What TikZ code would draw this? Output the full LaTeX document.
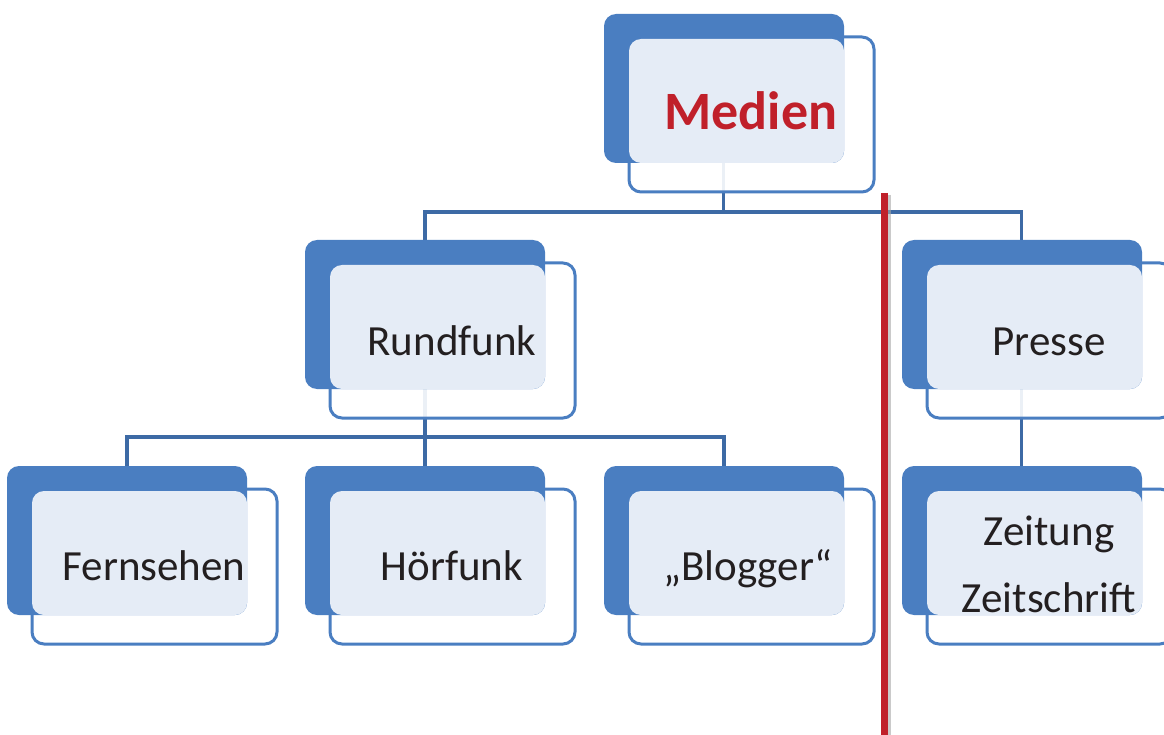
\documentclass[tikz,border=0pt]{standalone}
\usepackage{fontspec}
\setmainfont{Carlito}
\usetikzlibrary{positioning}
\definecolor{boxblue}{HTML}{4A7EC1}
\definecolor{boxlight}{HTML}{E5ECF6}
\definecolor{linkblue}{HTML}{3D6AA5}
\definecolor{medred}{HTML}{C0202A}
\definecolor{txtgray}{HTML}{231F20}
\tikzset{
  darkbox/.style={fill=boxblue,rounded corners=12pt,minimum width=240pt,minimum height=149pt,inner sep=0pt},
  outbox/.style={draw=boxblue,line width=3pt,fill=white,fill opacity=0.9,rounded corners=12pt,minimum width=245pt,minimum height=155pt,inner sep=0pt},
  lightbox/.style={fill=boxlight,rounded corners=12pt,minimum width=215pt,minimum height=124pt,inner sep=0pt},
  link/.style={draw=linkblue,line width=3.5pt},
  label/.style={anchor=base,text=txtgray,font=\fontsize{43}{67}\selectfont,inner sep=0pt,align=center},
}
% box pair: name, left x, top y
\newcommand{\orgbox}[3]{
  \node[outbox] (#1-out) at (#2+147.5,#3+100.5) {};
  \node[darkbox] (#1) at (#2+120,#3+74.5) {};
  \node[lightbox] (#1-in) at (#2+132.5,#3+87) {};
}

\begin{document}
\begin{tikzpicture}[x=1pt,y=-1pt]
  \useasboundingbox (0,0) rectangle (1164,735);
  % connectors behind the boxes
  \coordinate (top) at (723.5,163);
  \coordinate (rund) at (425,389);
  \coordinate (pres) at (1021.5,389);
  \draw[link] (top) -- ++(0,49) -| (425,240);
  \draw[link] (top) ++(0,49) -| (1021.5,240);
  \draw[link] (rund) -- ++(0,48) -| (127,466);
  \draw[link] (rund) -- (425,466);
  \draw[link] (rund) ++(0,48) -| (724,466);
  \draw[link] (pres) -- (1021.5,466);
  % boxes
  \orgbox{medien}{604}{14}
  \orgbox{rundfunk}{305}{240}
  \orgbox{presse}{902}{240}
  \orgbox{fernsehen}{7}{466}
  \orgbox{hoerfunk}{305}{466}
  \orgbox{blogger}{604}{466}
  \orgbox{zeitung}{902}{466}
  % texts
  \node[label,text=medred,font=\fontsize{54}{60}\selectfont\bfseries] (t-medien) at (751,130) {Medien};
  \node[label] (t-rundfunk) at (452,355) {Rundfunk};
  \node[label] (t-presse) at (1049,355) {Presse};
  \node[label] (t-fernsehen) at (154,580) {Fernsehen};
  \node[label] (t-hoerfunk) at (452,580) {Hörfunk};
  \node[label] (t-blogger) at (748,580) {„Blogger“};
  \node[label] (t-zeitung) at (1049,612) {Zeitung\\Zeitschrift};
  % red divider
  \coordinate (div) at (884,193);
  \draw[black!35,line width=4pt,opacity=0.6] (div) ++(5,2) -- (889,735);
  \draw[medred,line width=7pt] (div) -- (884,735);
\end{tikzpicture}
\end{document}
